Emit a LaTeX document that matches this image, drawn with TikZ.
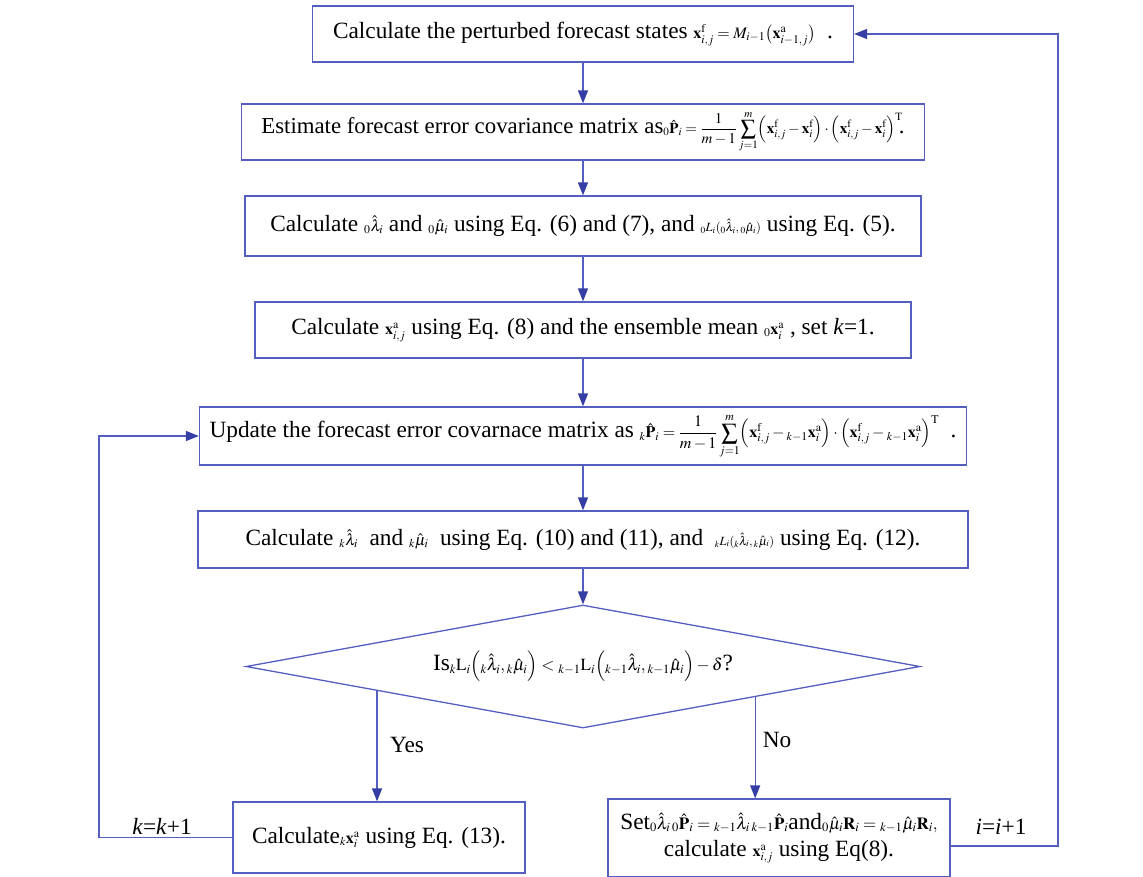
\documentclass[tikz,border=0pt]{standalone}
\usepackage{mathptmx}
\usepackage[no-math]{fontspec}
\setmainfont{Liberation Serif}
\usetikzlibrary{arrows.meta,shapes.geometric,calc}
\definecolor{edgeblue}{RGB}{84,94,190}
\definecolor{tipblue}{RGB}{52,62,165}
\newcommand\mth[1]{{\fontsize{16}{18}\selectfont$#1$}}
\newcommand\mthb[1]{{\fontsize{15}{17}\selectfont$#1$}}
\newcommand\mths[1]{{\fontsize{12.5}{14}\selectfont$#1$}}
\newcommand\mthl[1]{{\fontsize{17}{19}\selectfont$#1$}}
\begin{document}
\begin{tikzpicture}[x=1pt,y=-1pt,
  box/.style={draw=edgeblue, line width=1.3pt, minimum height=56pt, inner sep=3pt, font=\fontsize{23.3}{27}\selectfont},
  conn/.style={draw=edgeblue, line width=1.3pt},
  arr/.style={conn, -{Triangle[length=13pt,width=10pt,fill=tipblue,color=tipblue]}},
  lbl/.style={font=\fontsize{23.3}{27}\selectfont, inner sep=0pt}]
\useasboundingbox (0,0) rectangle (1143,876);

\node[box, minimum width=541pt] (b1) at (583,34)
  {Calculate the perturbed forecast states \mth{\mathbf{x}^{\mathrm f}_{i,j} = M_{i-1}\bigl(\mathbf{x}^{\mathrm a}_{i-1,j}\bigr)} \ .};
\node[box, minimum width=683pt, font=\fontsize{22.8}{27}\selectfont] (b2) at (583,132)
  {Estimate forecast error covariance matrix as\mthb{{}_0\hat{\mathbf P}_i = \displaystyle\frac{1}{m-1}\sum_{j=1}^{m}\Bigl(\mathbf x^{\mathrm f}_{i,j} - \mathbf x^{\mathrm f}_i\Bigr)\cdot\Bigl(\mathbf x^{\mathrm f}_{i,j}-\mathbf x^{\mathrm f}_i\Bigr)^{\mathrm T}}\!.};
\node[box, minimum width=676pt, minimum height=60pt] (b3) at (583,226)
  {Calculate \mth{{}_0\hat\lambda_i} and \mth{{}_0\hat\mu_i} using Eq. (6) and (7), and \mths{{}_0L_i({}_0\hat\lambda_i, {}_0\hat\mu_i)} using Eq. (5).};
\node[box, minimum width=656pt] (b4) at (583,330)
  {Calculate \mth{\mathbf x^{\mathrm a}_{i,j}} using Eq. (8) and the ensemble mean \mth{{}_0\mathbf x^{\mathrm a}_i} , set \textit{k}=1.};
\node[box, minimum width=767pt, minimum height=58pt] (b5) at (583,436)
  {Update the forecast error covarnace matrix as \mth{{}_k\hat{\mathbf P}_i = \displaystyle\frac{1}{m-1}\sum_{j=1}^{m}\Bigl(\mathbf x^{\mathrm f}_{i,j} - {}_{k-1}\mathbf x^{\mathrm a}_i\Bigr)\cdot\Bigl(\mathbf x^{\mathrm f}_{i,j} - {}_{k-1}\mathbf x^{\mathrm a}_i\Bigr)^{\mathrm T}} \ .};
\node[box, minimum width=770pt, minimum height=57pt] (b6) at (583,539.5)
  {Calculate \mth{{}_k\hat\lambda_i}\ \ and \mth{{}_k\hat\mu_i}\ \ using Eq. (10) and (11), and \ \mths{{}_kL_i({}_k\hat\lambda_i, {}_k\hat\mu_i)} using Eq. (12).};
\node[diamond, shape aspect=5.48, draw=edgeblue, line width=1.3pt, minimum width=674pt, minimum height=123pt, inner sep=0pt, font=\fontsize{23.3}{27}\selectfont] (d) at (583,666.5)
  {Is\mthl{{}_k\mathrm L_i\Bigl({}_k\hat\lambda_i, {}_k\hat\mu_i\Bigr) < {}_{k-1}\mathrm L_i\Bigl({}_{k-1}\hat\lambda_i, {}_{k-1}\hat\mu_i\Bigr) - \delta}?};
\node[box, minimum width=292pt, minimum height=71pt] (yes) at (379,837.5)
  {Calculate\mth{{}_k\mathbf x^{\mathrm a}_i} using Eq. (13).};
\node[box, minimum width=342pt, minimum height=78pt, align=center, inner sep=1pt] (no) at (779,838)
  {Set\mthl{{}_0\hat\lambda_i\,{}_0\hat{\mathbf P}_i = {}_{k-1}\hat\lambda_i\,{}_{k-1}\hat{\mathbf P}_i}and\mthl{{}_0\hat\mu_i\mathbf R_i = {}_{k-1}\hat\mu_i\mathbf R_i,}\\
   calculate \mth{\mathbf x^{\mathrm a}_{i,j}} using Eq(8).};

\draw[arr] (b1.south) -- (b2.north);
\draw[arr] (b2.south) -- (b3.north);
\draw[arr] (b3.south) -- (b4.north);
\draw[arr] (b4.south) -- (b5.north);
\draw[arr] (b5.south) -- (b6.north);
\draw[arr] (b6.south) -- (d.north);

\coordinate (ys) at ($(d.west)!0.39!(d.south)$);
\coordinate (ns) at ($(d.east)!0.49!(d.south)$);
\draw[arr] (ys) -- (ys |- yes.north);
\draw[arr] (ns) -- (ns |- no.north);

\node[lbl] (ylab) at (407,745) {Yes};
\node[lbl] (nlab) at (777,740) {No};
\node[lbl] (kl) at (162,826) {\textit{k}=\textit{k}+1};
\node[lbl] (il) at (1001,827) {\textit{i}=\textit{i}+1};

\coordinate (lc) at (99,842);
\coordinate (rc) at (1058,34);
\draw[arr] (yes.west) -- (yes.west -| lc) |- (b5.west);
\draw[arr] ([yshift=-8pt]no.east) -| (rc) -- (b1.east);
\end{tikzpicture}
\end{document}
